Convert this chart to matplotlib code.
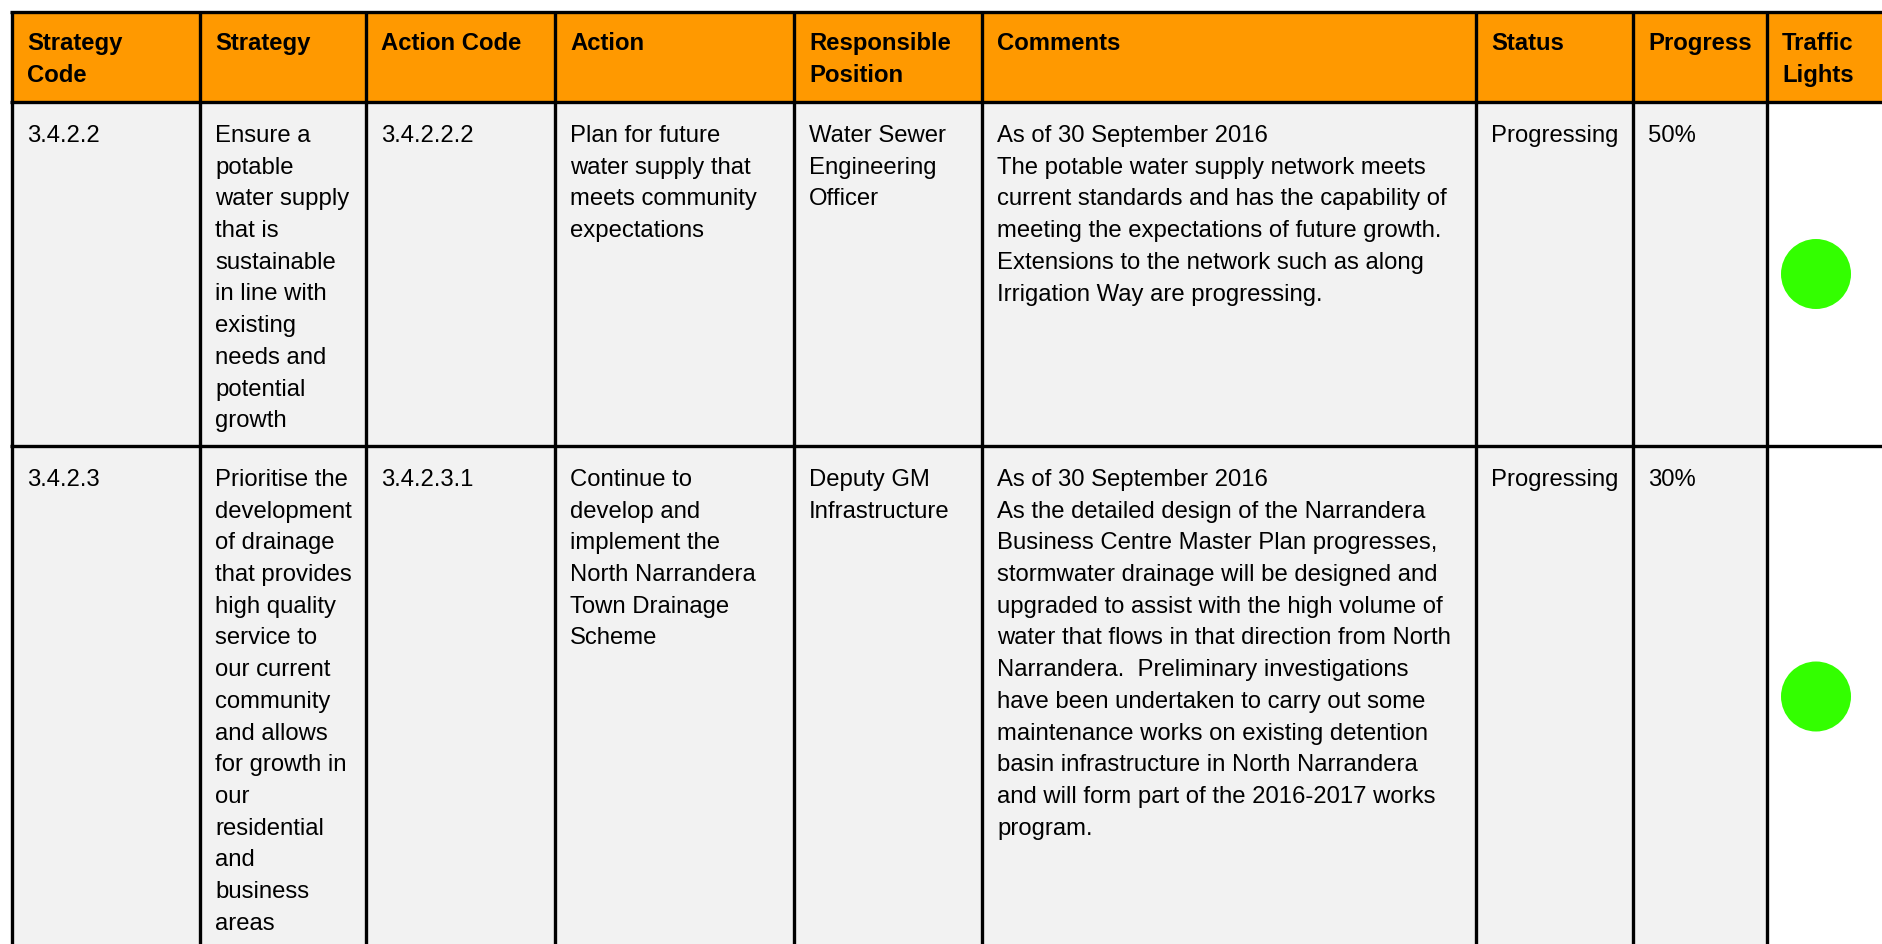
import matplotlib.pyplot as plt
from matplotlib.patches import Rectangle, Circle

plt.rcParams['font.family'] = ['Liberation Sans', 'DejaVu Sans']

headers = ["Strategy\nCode", "Strategy", "Action Code", "Action", "Responsible\nPosition",
           "Comments", "Status", "Progress", "Traffic\nLights"]

strategy_codes = ["3.4.2.2", "3.4.2.3"]
strategies = [
    "Ensure a\npotable\nwater supply\nthat is\nsustainable\nin line with\nexisting\nneeds and\npotential\ngrowth",
    "Prioritise the\ndevelopment\nof drainage\nthat provides\nhigh quality\nservice to\nour current\ncommunity\n"
    "and allows\nfor growth in\nour\nresidential\nand\nbusiness\nareas",
]
action_codes = ["3.4.2.2.2", "3.4.2.3.1"]
actions = [
    "Plan for future\nwater supply that\nmeets community\nexpectations",
    "Continue to\ndevelop and\nimplement the\nNorth Narrandera\nTown Drainage\nScheme",
]
positions = ["Water Sewer\nEngineering\nOfficer", "Deputy GM\nInfrastructure"]
comments = [
    "As of 30 September 2016\nThe potable water supply network meets\ncurrent standards and has the capability of\n"
    "meeting the expectations of future growth.\nExtensions to the network such as along\nIrrigation Way are progressing.",
    "As of 30 September 2016\nAs the detailed design of the Narrandera\nBusiness Centre Master Plan progresses,\n"
    "stormwater drainage will be designed and\nupgraded to assist with the high volume of\n"
    "water that flows in that direction from North\nNarrandera.  Preliminary investigations\n"
    "have been undertaken to carry out some\nmaintenance works on existing detention\n"
    "basin infrastructure in North Narrandera\nand will form part of the 2016-2017 works\nprogram.",
]
statuses = ["Progressing", "Progressing"]
progress = ["50%", "30%"]
lights = ["#33ff00", "#33ff00"]

# layout in pixels
W, H = 1883, 944
col_x = [12, 200, 366, 555, 794, 982, 1476, 1633, 1767, 1900]
row_y = [12, 102, 446, 947]
ORANGE = "#ff9900"
GRAY = "#f2f2f2"
LW = 2.4
FS = 17.2
LINE = 31.7

fig = plt.figure(figsize=(W / 100, H / 100), dpi=100)
ax = fig.add_axes([0, 0, 1, 1])
ax.set_xlim(0, W)
ax.set_ylim(H, 0)
ax.axis('off')

# backgrounds
ax.add_patch(Rectangle((col_x[0], row_y[0]), col_x[-1] - col_x[0], row_y[1] - row_y[0],
                       facecolor=ORANGE, edgecolor='none'))
ax.add_patch(Rectangle((col_x[0], row_y[1]), col_x[-2] - col_x[0], row_y[-1] - row_y[1],
                       facecolor=GRAY, edgecolor='none'))


def put(col, top, text, bold=False, off=40):
    for i, ln in enumerate(text.split("\n")):
        ax.text(col_x[col] + 15, top + off + i * LINE, ln, fontsize=FS, ha='left', va='baseline',
                fontweight='bold' if bold else 'normal', color='black')


for c, h in enumerate(headers):
    put(c, row_y[0], h, bold=True, off=38)

rows = list(zip(strategy_codes, strategies, action_codes, actions, positions, comments, statuses, progress))
for r, cells in enumerate(rows):
    for c, txt in enumerate(cells):
        put(c, row_y[r + 1], txt)
    cy = (row_y[r + 1] + row_y[r + 2]) / 2
    ax.add_patch(Circle((col_x[8] + 49, cy), 35, facecolor=lights[r], edgecolor='none'))

# grid lines
for x in col_x[:-1]:
    ax.plot([x, x], [row_y[0], row_y[-1]], color='black', lw=LW, solid_capstyle='butt')
for y in row_y[:-1]:
    ax.plot([col_x[0] - 1.5, col_x[-1]], [y, y], color='black', lw=LW, solid_capstyle='butt')

fig.savefig("out.png", dpi=100)
